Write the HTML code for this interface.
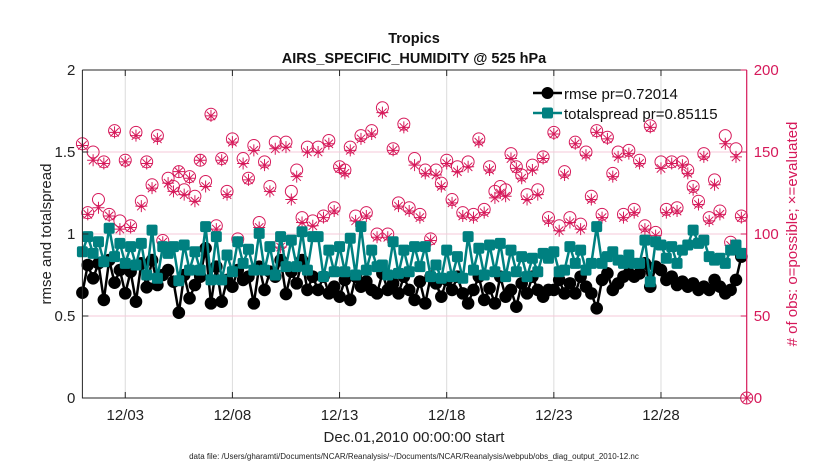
<!DOCTYPE html>
<html><head><meta charset="utf-8">
<style>
html,body{margin:0;padding:0;background:#fff;}
svg{display:block;font-family:"Liberation Sans",Arial,sans-serif;}
</style></head>
<body>
<svg id="chart" width="830" height="470" viewBox="0 0 830 470" xmlns="http://www.w3.org/2000/svg">
  <rect x="0" y="0" width="830" height="470" fill="#fff"/>
  <g id="grid"></g>
  <g id="marks"></g>
  <g id="axes"></g>
  <text x="414" y="43" text-anchor="middle" font-size="14.5" font-weight="bold" fill="#111">Tropics</text>
  <text x="414" y="63" text-anchor="middle" font-size="14.5" font-weight="bold" fill="#111">AIRS_SPECIFIC_HUMIDITY @ 525 hPa</text>
  <text transform="translate(51,234) rotate(-90)" text-anchor="middle" font-size="15" fill="#222">rmse and totalspread</text>
  <text transform="translate(797,234) rotate(-90)" text-anchor="middle" font-size="15" fill="#d6195a"># of obs: o=possible; ×=evaluated</text>
  <text x="414" y="442" text-anchor="middle" font-size="15" fill="#222">Dec.01,2010 00:00:00 start</text>
  <text x="414" y="459" text-anchor="middle" font-size="8" fill="#222">data file: /Users/gharamti/Documents/NCAR/Reanalysis/~/Documents/NCAR/Reanalysis/webpub/obs_diag_output_2010-12.nc</text>
  <g>
    <g>
      <line x1="533" y1="93" x2="562" y2="93" stroke="#000" stroke-width="2.5"/>
      <circle cx="547.5" cy="93" r="6" fill="#000"/>
      <text x="564" y="99" font-size="15" fill="#111">rmse pr=0.72014</text>
    </g>
    <g>
      <line x1="533" y1="113" x2="562" y2="113" stroke="#008080" stroke-width="2.5"/>
      <rect x="542" y="107.5" width="11" height="11" rx="2" fill="#008080"/>
      <text x="564" y="119" font-size="15" fill="#111">totalspread pr=0.85115</text>
    </g>
  </g>
</svg>
<script>
// time in days since Dec 1 00:00, 6-hourly
const tickDays = [2, 7, 12, 17, 22, 27];
const tickLabels = ["12/03", "12/08", "12/13", "12/18", "12/23", "12/28"];
const leftTicks = [0, 0.5, 1, 1.5, 2];
const leftTickLabels = ["0", "0.5", "1", "1.5", "2"];
const rightTicks = [0, 50, 100, 150, 200];
const rightTickLabels = ["0", "50", "100", "150", "200"];

const rmse = [0.642,0.811,0.730,0.821,0.598,0.841,0.703,0.780,0.638,0.770,0.587,0.821,0.675,0.841,0.689,0.750,0.780,0.709,0.520,0.750,0.608,0.689,0.740,0.913,0.577,0.801,0.587,0.720,0.679,0.780,0.720,0.740,0.577,0.801,0.659,0.770,0.740,0.841,0.634,0.770,0.699,0.841,0.659,0.740,
0.659,0.740,0.638,0.679,0.618,0.720,0.598,0.740,0.679,0.710,0.659,0.638,0.760,0.659,0.699,0.638,0.740,0.659,0.598,0.710,0.577,0.740,0.699,0.618,0.720,0.659,0.740,0.638,0.577,0.659,0.740,0.598,0.669,0.577,0.740,0.618,0.659,0.557,0.699,0.638,0.740,0.659,
0.618,0.659,0.659,0.720,0.638,0.699,0.638,0.740,0.679,0.638,0.547,0.720,0.760,0.659,0.699,0.740,0.760,0.740,0.760,0.821,0.679,0.801,0.780,0.720,0.740,0.689,0.709,0.679,0.699,0.659,0.679,0.659,0.720,0.679,0.638,0.659,0.720,0.862, null];

const spread = [0.892,0.984,0.882,0.953,0.831,1.035,0.862,0.943,0.821,0.923,0.811,0.943,0.750,1.024,0.730,0.923,0.882,0.923,0.715,0.933,0.780,0.892,0.780,1.045,0.720,0.984,0.720,0.872,0.770,0.953,0.821,0.907,0.780,1.004,0.780,0.923,0.750,0.984,0.801,0.963,0.801,1.014,0.780,0.984,
0.984,0.740,0.902,0.770,0.923,0.770,0.974,0.750,1.045,0.780,0.902,0.801,0.811,0.750,0.953,0.760,0.902,0.770,0.923,0.801,0.923,0.740,0.811,0.730,0.902,0.740,0.862,0.730,0.984,0.780,0.913,0.750,0.933,0.770,0.943,0.740,0.902,0.770,0.862,0.740,0.852,0.770,
0.882,0.852,0.892,0.770,0.780,0.923,0.821,0.902,0.780,0.821,1.045,0.821,0.862,0.892,0.841,0.821,0.872,0.821,0.821,0.963,0.709,0.953,0.933,0.852,0.923,0.821,0.902,0.933,1.024,0.943,0.963,0.862,0.841,0.852,0.821,0.902,0.933,0.882, null];

const possible = [155,113,150,121,144,112,163,108,145,105,162,120,144,130,160,96,134,129,138,127,135,123,145,132,173,105,146,126,158,97,146,134,154,107,144,129,156,94,156,126,139,110,153,108,
153,111,157,116,141,139,153,111,160,113,163,100,177,100,152,119,167,116,146,112,139,97,139,131,145,121,141,113,144,112,158,115,141,126,129,127,149,141,136,124,142,127,
147,110,162,105,138,110,156,106,150,123,163,112,159,137,150,112,151,115,145,105,166,101,144,115,144,116,144,139,129,120,149,110,133,114,160,95,152,111, 0];

const evaluated = [154,112,145,116,143,111,162,103,144,104,160,117,143,128,158,95,131,126,138,124,134,120,145,129,172,103,145,124,156,95,143,133,151,104,142,126,152,92,153,121,135,107,150,105,
150,110,155,114,140,137,151,108,158,111,161,98,174,98,151,117,165,114,142,110,137,96,136,129,143,119,138,111,141,110,156,113,139,122,125,123,146,140,134,121,139,124,
146,108,161,102,136,107,155,103,148,121,162,110,158,135,147,110,149,113,143,103,165,99,140,113,143,114,142,137,127,118,147,108,130,112,155,93,147,110, 0];

const X0 = 82.4, X1 = 746.7, Y0 = 398, Y1 = 70;
const dayMin = 0, dayMax = 31;
function xScale(d){ return X0 + (d - dayMin) / (dayMax - dayMin) * (X1 - X0); }
function yLeft(v){ return Y0 - v / 2 * (Y0 - Y1); }
function yRight(n){ return Y0 - n / 200 * (Y0 - Y1); }
function tOf(i){ return i * 0.25; }

const NS = "http://www.w3.org/2000/svg";
function mk(tag, attrs, parent){
  const e = document.createElementNS(NS, tag);
  for (const k in attrs) e.setAttribute(k, attrs[k]);
  parent.appendChild(e);
  return e;
}
const grid = document.getElementById('grid');
const marks = document.getElementById('marks');
const axes = document.getElementById('axes');

// grid
tickDays.forEach(function(d){
  const g = mk('line', {x1:xScale(d), x2:xScale(d), y1:Y1, y2:Y0, stroke:'#dcdcdc', 'stroke-width':1}, grid);
  
  
});
rightTicks.slice(1, -1).forEach(function(n){
  const g = mk('line', {x1:X0, x2:X1, y1:yRight(n), y2:yRight(n), stroke:'#f6c9d8', 'stroke-width':1}, grid);
  
  
});

// obs counts: circles + asterisks
const pink = '#d6195a';
possible.forEach(function(n, i){
  const c = mk('circle', {cx:xScale(tOf(i)), cy:yRight(n), r:6, fill:'none', stroke:pink, 'stroke-width':1}, marks);
  
  
});
evaluated.forEach(function(n, i){
  const cx = xScale(tOf(i)), cy = yRight(n), r = 6;
  let d = 'M' + (cx - r) + ' ' + cy + 'H' + (cx + r) + 'M' + cx + ' ' + (cy - r) + 'V' + (cy + r);
  const q = r * 0.7;
  d += 'M' + (cx - q) + ' ' + (cy - q) + 'L' + (cx + q) + ' ' + (cy + q) + 'M' + (cx - q) + ' ' + (cy + q) + 'L' + (cx + q) + ' ' + (cy - q);
  const p = mk('path', {d:d, stroke:pink, 'stroke-width':1, fill:'none'}, marks);
  
  
});

// rmse line
let dr = '';
rmse.forEach(function(v, i){ if (v !== null) dr += (dr ? 'L' : 'M') + xScale(tOf(i)).toFixed(2) + ' ' + yLeft(v).toFixed(2); });
const rl = mk('path', {d:dr, stroke:'#000', 'stroke-width':2.5, fill:'none', 'stroke-linejoin':'round'}, marks);


rmse.forEach(function(v, i){
  if (v === null) return;
  const c = mk('circle', {cx:xScale(tOf(i)), cy:yLeft(v), r:6.3, fill:'#000'}, marks);
  
  
});

// spread line
let ds = '';
spread.forEach(function(v, i){ if (v !== null) ds += (ds ? 'L' : 'M') + xScale(tOf(i)).toFixed(2) + ' ' + yLeft(v).toFixed(2); });
const sl = mk('path', {d:ds, stroke:'#008080', 'stroke-width':2.5, fill:'none', 'stroke-linejoin':'round'}, marks);


spread.forEach(function(v, i){
  if (v === null) return;
  const s = mk('rect', {x:xScale(tOf(i)) - 5.5, y:yLeft(v) - 5.5, width:11, height:11, rx:2, fill:'#008080'}, marks);
  
  
});

// axes box
const ax = mk('path', {d:'M'+X0+' '+Y1+'H'+X1+'M'+X0+' '+Y1+'V'+Y0+'H'+X1, stroke:'#262626', 'stroke-width':1, fill:'none'}, axes);


const rax = mk('line', {x1:X1, x2:X1, y1:Y1, y2:Y0, stroke:pink, 'stroke-width':1.2}, axes);



tickDays.forEach(function(d, k){
  const x = xScale(d);
  const t1 = mk('line', {x1:x, x2:x, y1:Y0, y2:Y0 - 6, stroke:'#262626'}, axes);
  
  
  const t2 = mk('line', {x1:x, x2:x, y1:Y1, y2:Y1 + 6, stroke:'#262626'}, axes);
  
  
  const tx = mk('text', {x:x, y:Y0 + 22, 'text-anchor':'middle', 'font-size':15, fill:'#222'}, axes);
  tx.textContent = tickLabels[k];
  
  
});
leftTicks.forEach(function(v, k){
  const y = yLeft(v);
  const t = mk('line', {x1:X0, x2:X0 + 6, y1:y, y2:y, stroke:'#262626'}, axes);
  
  
  const tx = mk('text', {x:X0 - 7, y:y + 5, 'text-anchor':'end', 'font-size':15, fill:'#222'}, axes);
  tx.textContent = leftTickLabels[k];
  
  
});
rightTicks.forEach(function(n, k){
  const y = yRight(n);
  const t = mk('line', {x1:X1, x2:X1 - 6, y1:y, y2:y, stroke:pink}, axes);
  
  
  const tx = mk('text', {x:X1 + 7, y:y + 5, 'text-anchor':'start', 'font-size':15, fill:pink}, axes);
  tx.textContent = rightTickLabels[k];
  
  
});
</script>
</body></html>
